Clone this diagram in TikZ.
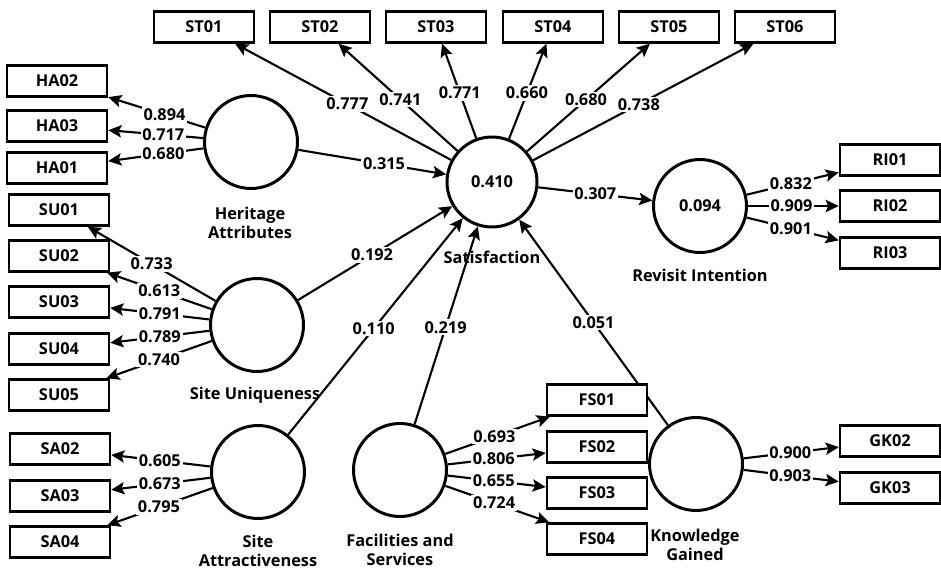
\documentclass[tikz,border=0pt]{standalone}
\usepackage{fontspec}
\setmainfont{Open Sans}
\usetikzlibrary{arrows.meta, backgrounds}

\begin{document}
\begin{tikzpicture}[x=0.02cm, y=-0.02cm,
    every node/.style={font=\fontsize{9.3}{11}\selectfont\bfseries},
    lv/.style={circle, draw, line width=1.7pt, minimum size=1.86cm, inner sep=0pt},
    ind/.style={rectangle, draw, line width=1.4pt, fill=white, minimum width=2cm, minimum height=0.62cm, inner sep=0pt},
    lvname/.style={align=center, inner sep=0pt},
    link/.style={-{Stealth[length=7.5pt, width=7pt, inset=1.5pt]}, line width=1.2pt},
    coef/.style={fill=white, inner sep=1pt}
  ]
  \useasboundingbox (0,0) rectangle (941,571);

  % --- latent variables ---
  \node[lv] (HA) at (251,142) {};
  \node[lv] (SU) at (257,325) {};
  \node[lv] (SA) at (258,472) {};
  \node[lv] (FS) at (400,470) {};
  \node[lv] (KG) at (696,464) {};
  \node[lv, minimum size=1.8cm] (SAT) at (492,182) {0.410};
  \node[lv] (RI) at (700,206) {0.094};

  \node[lvname] (HAname) at (250,223) {Heritage\\Attributes};
  \node[lvname] (SUname) at (255,395) {Site Uniqueness};
  \node[lvname] (SAname) at (258,551) {Site\\Attractiveness};
  \node[lvname] (FSname) at (400,550) {Facilities and\\Services};
  \node[lvname] (KGname) at (695,545) {Knowledge\\Gained};
  \node[lvname] (SATname) at (492,257) {Satisfaction};
  \node[lvname] (RIname) at (700,275) {Revisit Intention};

  % --- indicators ---
  \foreach \name/\y in {HA02/81, HA03/126, HA01/168}
    \node[ind] (\name) at (57,\y) {\name};
  \foreach \name/\y in {SU01/210, SU02/256, SU03/302, SU04/349, SU05/395}
    \node[ind] (\name) at (59,\y) {\name};
  \foreach \name/\y in {SA02/449, SA03/496, SA04/542}
    \node[ind] (\name) at (60,\y) {\name};
  \foreach \name/\x in {ST01/204, ST02/320, ST03/436, ST04/553, ST05/669, ST06/785}
    \node[ind] (\name) at (\x,27) {\name};
  \foreach \name/\y in {RI01/160, RI02/206, RI03/253}
    \node[ind] (\name) at (890,\y) {\name};
  \foreach \name/\y in {FS01/400, FS02/447, FS03/493, FS04/539}
    \node[ind] (\name) at (597,\y) {\name};
  \foreach \name/\y in {GK02/441, GK03/488}
    \node[ind] (\name) at (890,\y) {\name};

  \begin{scope}[on background layer]
    % outer loadings
    \foreach \ind/\val in {HA02/0.894, HA03/0.717, HA01/0.680}
      \draw[link] (HA) -- node[coef, pos=0.42] {\val} (\ind);
    \foreach \ind/\val in {SU01/0.733, SU02/0.613, SU03/0.791, SU04/0.789, SU05/0.740}
      \draw[link] (SU) -- node[coef, pos=0.5] {\val} (\ind);
    \foreach \ind/\val in {SA02/0.605, SA03/0.673, SA04/0.795}
      \draw[link] (SA) -- node[coef, pos=0.51] {\val} (\ind);
    \foreach \ind/\val in {ST01/0.777, ST02/0.741, ST03/0.771, ST04/0.660, ST05/0.680, ST06/0.738}
      \draw[link] (SAT) -- node[coef, pos=0.48] {\val} (\ind);
    \foreach \ind/\val in {RI01/0.832, RI02/0.909, RI03/0.901}
      \draw[link] (RI) -- node[coef, pos=0.48] {\val} (\ind);
    \foreach \ind/\val in {FS01/0.693, FS02/0.806, FS03/0.655, FS04/0.724}
      \draw[link] (FS) -- node[coef, pos=0.47] {\val} (\ind);
    \foreach \ind/\val in {GK02/0.900, GK03/0.903}
      \draw[link] (KG) -- node[coef, pos=0.49] {\val} (\ind);

    % path coefficients
    \draw[link] (HA) -- node[coef, pos=0.58] {0.315} (SAT);
    \draw[link] (SU) -- node[coef, pos=0.48] {0.192} (SAT);
    \draw[link] (SA) -- node[coef, pos=0.49] {0.110} (SAT);
    \draw[link] (FS) -- node[coef, pos=0.49] {0.219} (SAT);
    \draw[link] (KG) -- node[coef, pos=0.5] {0.051} (SAT);
    \draw[link] (SAT) -- node[coef, pos=0.5] {0.307} (RI);
  \end{scope}
\end{tikzpicture}
\end{document}
